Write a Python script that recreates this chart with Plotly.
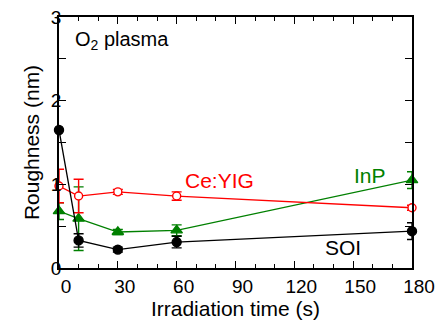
import plotly.graph_objects as go

# Data
time_s = [0, 10, 30, 60, 180]

soi = [1.65, 0.33, 0.22, 0.31, 0.44]
soi_err = [0.0, 0.08, 0.03, 0.07, 0.10]

ceyig = [0.98, 0.86, 0.91, 0.86, 0.72]
ceyig_err = [0.20, 0.20, 0.03, 0.05, 0.03]

inp = [0.68, 0.59, 0.43, 0.45, 1.05]
inp_err = [0.10, 0.38, 0.03, 0.065, 0.10]

x_ticks = [0, 30, 60, 90, 120, 150, 180]
y_ticks = [0, 1, 2, 3]

FONT = "Liberation Sans, Arial, sans-serif"
RED = "#ff0000"
GREEN = "#008000"
BLACK = "#000000"

fig = go.Figure()

def add_series(y, err, color, symbol, size, fill):
    fig.add_trace(go.Scatter(
        x=time_s, y=y, mode="lines+markers",
        line=dict(color=color, width=1.3),
        marker=dict(symbol=symbol, size=size, color=fill,
                    line=dict(color=color, width=1.4)),
        error_y=dict(type="data", array=err, visible=True,
                     color=color, thickness=1.4, width=5),
        cliponaxis=False, showlegend=False,
    ))

add_series(inp, inp_err, GREEN, "triangle-up", 10, GREEN)
add_series(ceyig, ceyig_err, RED, "circle", 8, "white")
add_series(soi, soi_err, BLACK, "circle", 9, BLACK)

fig.update_layout(
    width=435, height=325,
    margin=dict(l=59, r=23, t=17, b=57),
    paper_bgcolor="white", plot_bgcolor="white",
    font=dict(family=FONT, size=19, color="black"),
    showlegend=False,
    annotations=[
        dict(x=7, y=2.72, xref="x", yref="y", text="O<sub>2</sub> plasma",
             showarrow=False, xanchor="left", yanchor="middle",
             font=dict(size=20, color=BLACK)),
        dict(x=82, y=1.04, xref="x", yref="y", text="Ce:YIG",
             showarrow=False, xanchor="center", yanchor="middle",
             font=dict(size=21, color=RED)),
        dict(x=158.5, y=1.10, xref="x", yref="y", text="InP",
             showarrow=False, xanchor="center", yanchor="middle",
             font=dict(size=21, color=GREEN)),
        dict(x=145, y=0.25, xref="x", yref="y", text="SOI",
             showarrow=False, xanchor="center", yanchor="middle",
             font=dict(size=21, color=BLACK)),
    ],
)

fig.update_xaxes(
    range=[0, 180], tickvals=x_ticks, ticktext=[str(v) for v in x_ticks],
    ticks="inside", ticklen=7, tickwidth=1.2, tickcolor="black",
    minor=dict(dtick=10, ticks="inside", ticklen=4, tickwidth=1.2, tickcolor="black"),
    showline=True, linecolor="black", linewidth=1.5, mirror="allticks",
    showgrid=False, zeroline=False, automargin=False,
    tickfont=dict(size=19, family=FONT), ticklabelshift=7,
    ticklabeloverflow="allow",
    title=dict(text="Irradiation time (s)", font=dict(size=21, family=FONT), standoff=4),
)
fig.update_yaxes(
    range=[0, 3], tickvals=y_ticks, ticktext=[str(v) for v in y_ticks],
    ticks="inside", ticklen=7, tickwidth=1.2, tickcolor="black",
    minor=dict(dtick=0.5, ticks="inside", ticklen=7, tickwidth=1.2, tickcolor="black"),
    showline=True, linecolor="black", linewidth=1.5, mirror="allticks",
    showgrid=False, zeroline=False, automargin=False,
    tickfont=dict(size=19, family=FONT), ticklabelstandoff=-8,
    ticklabeloverflow="allow",
    title=dict(text="Roughness (nm)", font=dict(size=21, family=FONT), standoff=6),
)

fig.write_html("out.html")
